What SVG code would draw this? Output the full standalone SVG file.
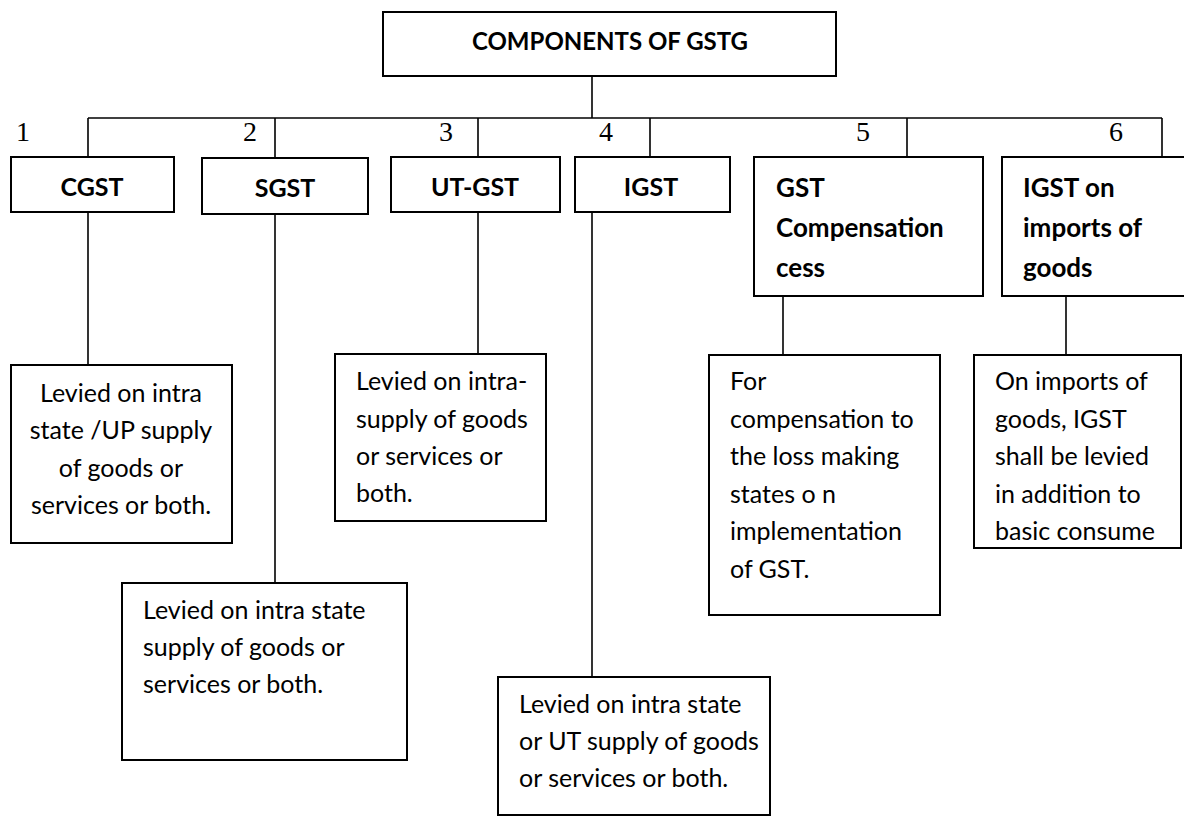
<svg xmlns="http://www.w3.org/2000/svg" width="1184" height="816" viewBox="0 0 1184 816">
  <style>
    .box { fill: #fff; stroke: #000; stroke-width: 2; }
    .wire { fill: none; stroke: #000; stroke-width: 1.6; }
    .title { font-family: Lato, "Liberation Sans", sans-serif; font-weight: bold; font-size: 24px; fill: #000; }
    .head { font-family: Lato, "Liberation Sans", sans-serif; font-weight: bold; font-size: 26px; fill: #000; }
    .short { font-size: 25px; }
    .body { font-family: Lato, "Liberation Sans", sans-serif; font-size: 25px; fill: #000; }
    .num { font-family: "Liberation Serif", "Times New Roman", serif; font-size: 28px; fill: #000; }
    .mid { text-anchor: middle; }
  </style>
  <rect width="1184" height="816" fill="#fff"/>

  <!-- connectors: trunk, branch bar, drops and note stems -->
  <g id="connectors" class="wire">
    <path d="M592 76V118"/>
    <path d="M88 118H1162"/>
    <path d="M88 118V157M275 118V157M478 118V157M650 118V157M907 118V157M1162 118V157"/>
    <path d="M88 212V365"/>
    <path d="M275 214V583"/>
    <path d="M478 212V354"/>
    <path d="M592 212V677"/>
    <path d="M783 296V355"/>
    <path d="M1066 296V355"/>
  </g>

  <!-- branch numbers -->
  <g id="numbers" class="num">
    <text x="16" y="141">1</text>
    <text x="243" y="141">2</text>
    <text x="439" y="141">3</text>
    <text x="599" y="141">4</text>
    <text x="856" y="141">5</text>
    <text x="1109" y="141">6</text>
  </g>

  <g id="root">
    <rect class="box" x="383" y="12" width="453" height="64"/>
    <text class="title mid" x="610" y="50">COMPONENTS OF GSTG</text>
  </g>

  <g id="cgst">
    <rect class="box" x="11" y="157" width="163" height="55"/>
    <text class="head short mid" x="92" y="196">CGST</text>
  </g>
  <g id="sgst">
    <rect class="box" x="202" y="158" width="166" height="56"/>
    <text class="head short mid" x="285" y="197">SGST</text>
  </g>
  <g id="utgst">
    <rect class="box" x="391" y="157" width="169" height="55"/>
    <text class="head short mid" x="475" y="196">UT-GST</text>
  </g>
  <g id="igst">
    <rect class="box" x="575" y="157" width="155" height="55"/>
    <text class="head short mid" x="651" y="196">IGST</text>
  </g>
  <g id="cess">
    <rect class="box" x="754" y="157" width="229" height="139"/>
    <text class="head" x="776" y="197">GST</text>
    <text class="head" x="776" y="237">Compensation</text>
    <text class="head" x="776" y="277">cess</text>
  </g>
  <g id="igst-imports">
    <rect class="box" x="1002" y="157" width="190" height="139"/>
    <text class="head" x="1023" y="197">IGST on</text>
    <text class="head" x="1023" y="237">imports of</text>
    <text class="head" x="1023" y="277">goods</text>
  </g>

  <g id="cgst-note">
    <rect class="box" x="11" y="365" width="221" height="178"/>
    <text class="body mid" x="121" y="402">Levied on intra</text>
    <text class="body mid" x="121" y="439">state /UP supply</text>
    <text class="body mid" x="121" y="477">of goods or</text>
    <text class="body mid" x="121" y="514">services or both.</text>
  </g>
  <g id="utgst-note">
    <rect class="box" x="335" y="354" width="211" height="167"/>
    <text class="body" x="356" y="390">Levied on intra-</text>
    <text class="body" x="356" y="428">supply of goods</text>
    <text class="body" x="356" y="465">or services or</text>
    <text class="body" x="356" y="502">both.</text>
  </g>
  <g id="sgst-note">
    <rect class="box" x="122" y="583" width="285" height="177"/>
    <text class="body" x="143" y="619">Levied on intra state</text>
    <text class="body" x="143" y="656">supply of goods or</text>
    <text class="body" x="143" y="693">services or both.</text>
  </g>
  <g id="igst-note">
    <rect class="box" x="498" y="677" width="272" height="138"/>
    <text class="body" x="519" y="713">Levied on intra state</text>
    <text class="body" x="519" y="750">or UT supply of goods</text>
    <text class="body" x="519" y="787">or services or both.</text>
  </g>
  <g id="cess-note">
    <rect class="box" x="709" y="355" width="231" height="260"/>
    <text class="body" x="730" y="390">For</text>
    <text class="body" x="730" y="428">compensation to</text>
    <text class="body" x="730" y="465">the loss making</text>
    <text class="body" x="730" y="503">states o n</text>
    <text class="body" x="730" y="540">implementation</text>
    <text class="body" x="730" y="578">of GST.</text>
  </g>
  <g id="igst-imports-note">
    <rect class="box" x="974" y="355" width="207" height="193"/>
    <text class="body" x="995" y="390">On imports of</text>
    <text class="body" x="995" y="428">goods, IGST</text>
    <text class="body" x="995" y="465">shall be levied</text>
    <text class="body" x="995" y="503">in addition to</text>
    <text class="body" x="995" y="540">basic consume</text>
  </g>
</svg>
